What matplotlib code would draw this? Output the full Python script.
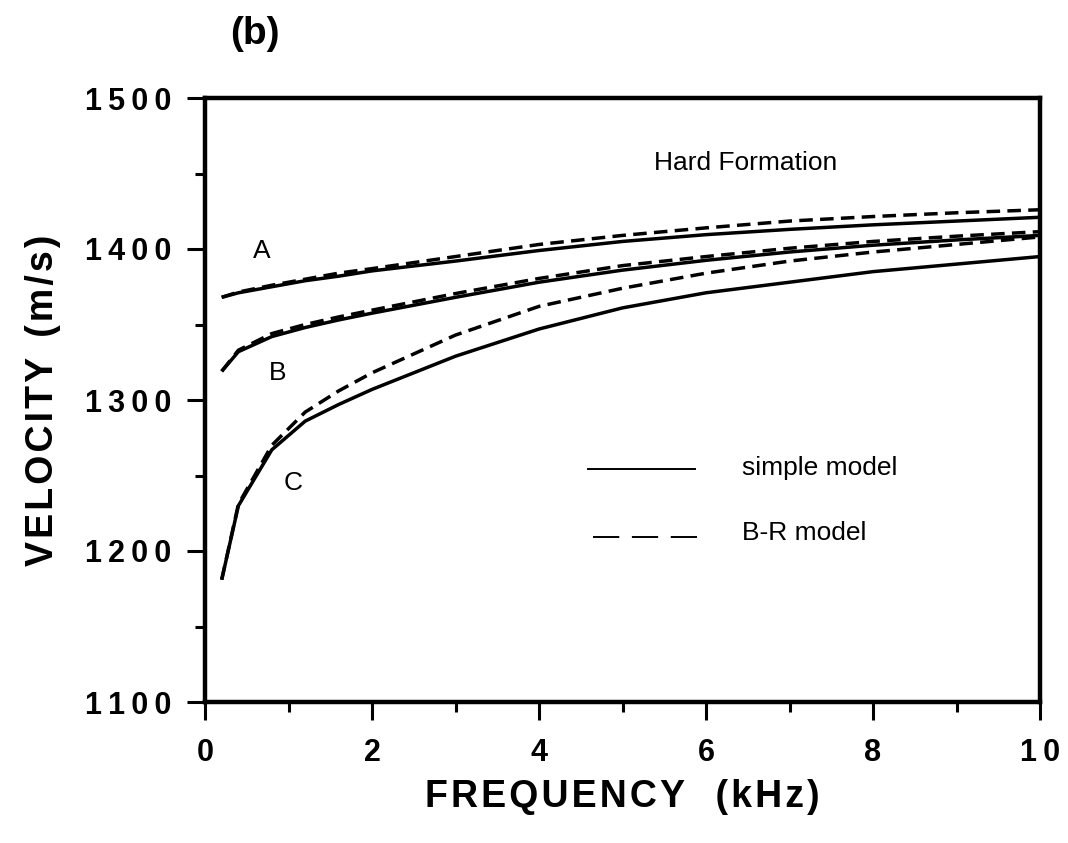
import matplotlib
matplotlib.use("Agg")
import matplotlib.pyplot as plt
from matplotlib.lines import Line2D
from matplotlib.ticker import MultipleLocator

# ---- data ----
freq = [0.2, 0.4, 0.8, 1.2, 1.6, 2, 3, 4, 5, 6, 7, 8, 9, 10]

simple_A = [1368, 1371, 1375, 1379, 1382, 1385.5, 1392, 1399, 1405, 1409.5, 1413, 1416, 1418.5, 1421]
br_A     = [1368, 1371.5, 1376, 1380, 1384, 1387, 1395, 1403, 1409, 1414, 1418.5, 1421.5, 1424, 1426]

simple_B = [1319, 1332, 1342, 1348, 1353, 1357.5, 1368, 1378, 1386, 1392.5, 1398, 1402.5, 1406, 1409]
br_B     = [1319, 1333, 1344, 1350, 1355, 1359.5, 1370.5, 1380.5, 1389, 1395, 1400.5, 1405, 1408.5, 1411.5]

simple_C = [1181, 1230, 1267, 1286, 1297, 1307, 1329, 1347, 1361, 1371, 1378, 1385, 1390, 1395]
br_C     = [1181, 1231, 1270, 1292, 1306, 1318, 1343, 1362, 1374, 1384, 1392, 1398, 1403, 1408]

xticks = [0, 2, 4, 6, 8, 10]
yticks = [1100, 1200, 1300, 1400, 1500]
curve_labels = [('A', 0.68, 1399), ('B', 0.87, 1318), ('C', 1.05, 1245)]

plt.rcParams['font.family'] = ['Liberation Sans', 'DejaVu Sans']

THIN = '\u2009'
HAIR = '\u200a'


def spaced(s, sep):
    return sep.join(s)


fig = plt.figure(figsize=(10.68, 8.43), dpi=100)
ax = fig.add_axes([205/1068, 1 - 702/843, 835/1068, 604/843])

lw = 2.5
dash = (0, (3.9, 2.1))
for s, d in [(simple_A, br_A), (simple_B, br_B), (simple_C, br_C)]:
    ax.plot(freq, s, color='black', lw=lw, solid_capstyle='butt')
    ax.plot(freq, d, color='black', lw=lw, linestyle=dash)

ax.set_xlim(0, 10)
ax.set_ylim(1100, 1500)
ax.set_xticks(xticks)
ax.set_xticklabels([spaced(str(v), THIN) for v in xticks])
ax.set_yticks(yticks)
ax.set_yticklabels([spaced(str(v), THIN) for v in yticks])
ax.xaxis.set_minor_locator(MultipleLocator(1))
ax.yaxis.set_minor_locator(MultipleLocator(50))

for sp in ax.spines.values():
    sp.set_linewidth(3.2)
ax.tick_params(which='major', direction='out', length=13, width=2.2,
               labelsize=22, top=False, right=False)
ax.tick_params(which='minor', direction='out', length=7, width=2.2,
               top=False, right=False)
ax.tick_params(axis='x', which='major', pad=13)
ax.tick_params(axis='y', which='major', pad=11)
for lab in ax.get_xticklabels() + ax.get_yticklabels():
    lab.set_fontweight('bold')

ax.set_xlabel(spaced('FREQUENCY', HAIR) + '   ' + spaced('(kHz)', HAIR),
              fontsize=27, fontweight='bold', va='center')
ax.xaxis.set_label_coords(0.5, (702 - 797) / 604)
ax.set_ylabel(spaced('VELOCITY', HAIR) + '  ' + spaced('(m/s)', HAIR),
              fontsize=27, fontweight='bold', va='center')
ax.yaxis.set_label_coords((43 - 205) / 835, 0.5)

fig.text(255/1068, 1 - 34/843, '(b)', fontsize=28, fontweight='bold',
         ha='center', va='center')

ax.text((746 - 205) / 835, (702 - 163) / 604, 'Hard Formation',
        transform=ax.transAxes, fontsize=19, ha='center', va='center')
for name, cx, cy in curve_labels:
    ax.text(cx, cy, name, fontsize=19, ha='center', va='center')

# legend
y1 = (702 - 469) / 604
y2 = (702 - 537) / 604
ax.add_line(Line2D([(588 - 205) / 835, (695 - 205) / 835], [y1, y1],
                   transform=ax.transAxes, color='black', lw=1.4))
ax.add_line(Line2D([(593 - 205) / 835, (697 - 205) / 835], [y2, y2],
                   transform=ax.transAxes, color='black', lw=1.4,
                   linestyle=(0, (13.5, 6.5))))
ax.text((742 - 205) / 835, (702 - 468) / 604, 'simple model',
        transform=ax.transAxes, fontsize=19, ha='left', va='center')
ax.text((742 - 205) / 835, (702 - 533) / 604, 'B-R model',
        transform=ax.transAxes, fontsize=19, ha='left', va='center')

fig.savefig('out.png', dpi=100)
